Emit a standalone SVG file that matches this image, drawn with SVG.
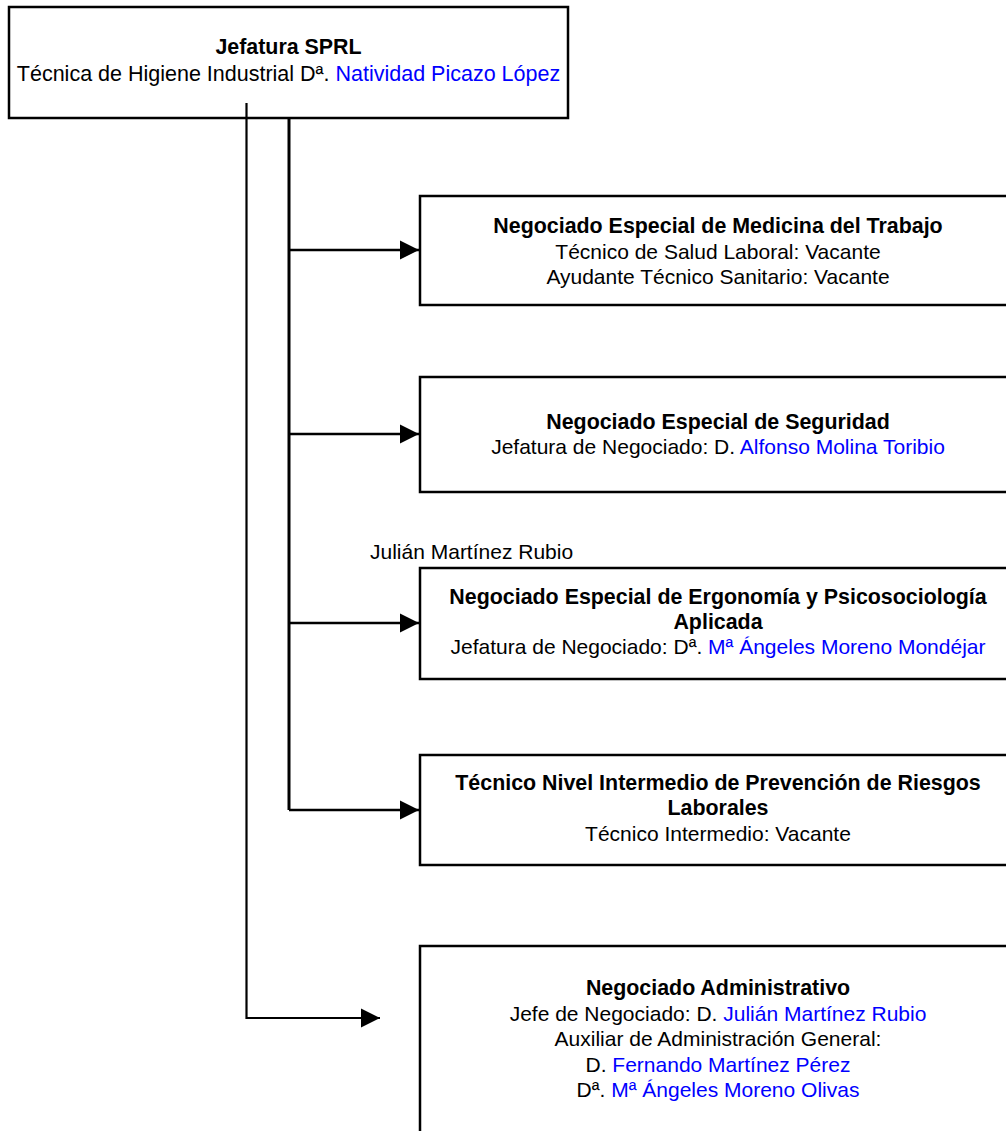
<svg xmlns="http://www.w3.org/2000/svg" width="1006" height="1131" viewBox="0 0 1006 1131">
<defs>
<marker id="ah" markerUnits="userSpaceOnUse" markerWidth="20" markerHeight="20" refX="19" refY="10" orient="auto">
<polygon points="0,0.5 19,10 0,19.5" fill="#000"/>
</marker>
<style>
.box{fill:#fff;stroke:#000;stroke-width:2.5}
.t{font-family:"Liberation Sans",Arial,sans-serif;font-size:21px;fill:#000;text-anchor:middle}
.b{font-weight:bold;font-size:21.4px}
.n{fill:#0000ff}
.c{fill:none;stroke:#000;stroke-width:2.5}
</style>
</defs>
<rect width="1006" height="1131" fill="#fff"/>
<g id="node-jefatura">
<rect class="box" x="9" y="7" width="559" height="111"/>
<text class="t b" x="288.5" y="54">Jefatura SPRL</text>
<text class="t" x="288.5" y="81" style="font-size:21.5px">Técnica de Higiene Industrial Dª. <tspan class="n">Natividad Picazo López</tspan></text>
</g>
<g id="node-medicina">
<rect class="box" x="420" y="196" width="600" height="109"/>
<text class="t b" x="718" y="233">Negociado Especial de Medicina del Trabajo</text>
<text class="t" x="718" y="259">Técnico de Salud Laboral: Vacante</text>
<text class="t" x="718" y="284">Ayudante Técnico Sanitario: Vacante</text>
</g>
<g id="node-seguridad">
<rect class="box" x="420" y="377" width="600" height="115"/>
<text class="t b" x="718" y="429">Negociado Especial de Seguridad</text>
<text class="t" x="718" y="454">Jefatura de Negociado: D. <tspan class="n">Alfonso Molina Toribio</tspan></text>
</g>
<g id="label-julian">
<text class="t" x="370" y="559" style="text-anchor:start">Julián Martínez Rubio</text>
</g>
<g id="node-ergonomia">
<rect class="box" x="420" y="568" width="600" height="111"/>
<text class="t b" x="718" y="604">Negociado Especial de Ergonomía y Psicosociología</text>
<text class="t b" x="718" y="629">Aplicada</text>
<text class="t" x="718" y="654">Jefatura de Negociado: Dª. <tspan class="n">Mª Ángeles Moreno Mondéjar</tspan></text>
</g>
<g id="node-tecnico">
<rect class="box" x="420" y="755" width="600" height="110"/>
<text class="t b" x="718" y="790">Técnico Nivel Intermedio de Prevención de Riesgos</text>
<text class="t b" x="718" y="815">Laborales</text>
<text class="t" x="718" y="841">Técnico Intermedio: Vacante</text>
</g>
<g id="node-administrativo">
<rect class="box" x="420" y="946" width="600" height="200"/>
<text class="t b" x="718" y="995">Negociado Administrativo</text>
<text class="t" x="718" y="1021">Jefe de Negociado: D. <tspan class="n">Julián Martínez Rubio</tspan></text>
<text class="t" x="718" y="1046">Auxiliar de Administración General:</text>
<text class="t" x="718" y="1072">D. <tspan class="n">Fernando Martínez Pérez</tspan></text>
<text class="t" x="718" y="1097">Dª. <tspan class="n">Mª Ángeles Moreno Olivas</tspan></text>
</g>
<g id="connectors">
<path class="c" d="M289,118 V810" style="stroke-width:3"/>
<path class="c" d="M289,250 H419" marker-end="url(#ah)"/>
<path class="c" d="M289,434 H419" marker-end="url(#ah)"/>
<path class="c" d="M289,623 H419" marker-end="url(#ah)"/>
<path class="c" d="M289,810 H419" marker-end="url(#ah)"/>
<path class="c" d="M246.5,103 V1018 H380" style="stroke-width:2.2" marker-end="url(#ah)"/>
</g>
</svg>
